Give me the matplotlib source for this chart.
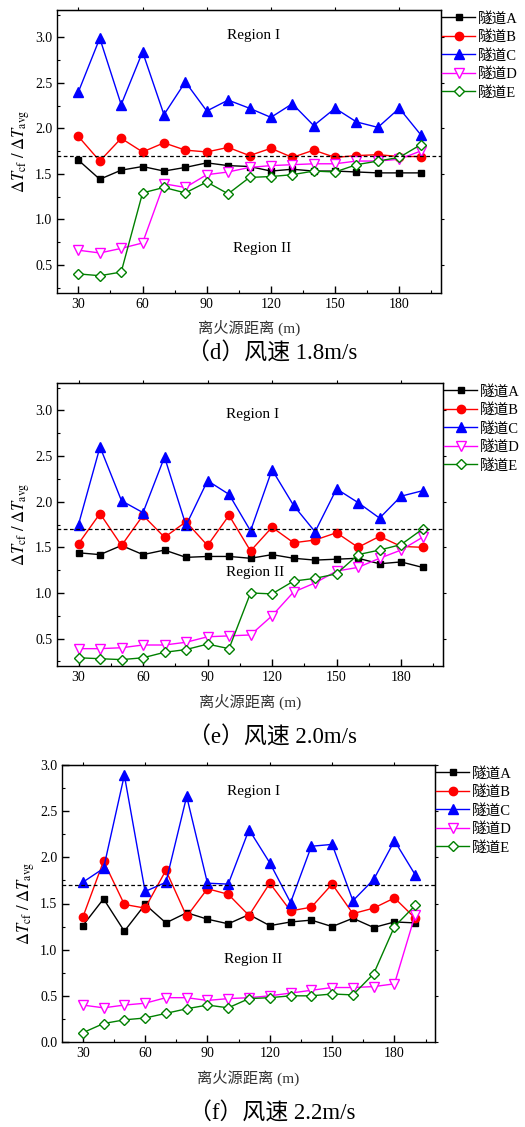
import matplotlib
matplotlib.use("Agg")
import matplotlib.pyplot as plt
from matplotlib.ticker import MultipleLocator

plt.rcParams['font.family'] = ['Liberation Serif', 'Noto Sans CJK SC']
plt.rcParams['mathtext.fontset'] = 'stix'

x = [30, 40, 50, 60, 70, 80, 90, 100, 110, 120, 130, 140, 150, 160, 170, 180, 190]
labels = ['隧道A', '隧道B', '隧道C', '隧道D', '隧道E']

# (d) wind 1.8 m/s
d_A = [1.65, 1.44, 1.54, 1.58, 1.53, 1.57, 1.62, 1.59, 1.58, 1.53, 1.55, 1.53, 1.53, 1.52, 1.51, 1.51, 1.51]
d_B = [1.91, 1.64, 1.89, 1.74, 1.84, 1.76, 1.74, 1.79, 1.70, 1.78, 1.68, 1.76, 1.68, 1.70, 1.71, 1.69, 1.69]
d_C = [2.40, 2.99, 2.26, 2.84, 2.15, 2.51, 2.19, 2.31, 2.22, 2.12, 2.27, 2.03, 2.22, 2.07, 2.01, 2.22, 1.93]
d_D = [0.66, 0.63, 0.68, 0.74, 1.39, 1.35, 1.49, 1.52, 1.57, 1.59, 1.60, 1.61, 1.61, 1.64, 1.64, 1.66, 1.75]
d_E = [0.40, 0.38, 0.42, 1.29, 1.35, 1.29, 1.41, 1.28, 1.46, 1.47, 1.49, 1.53, 1.52, 1.60, 1.64, 1.68, 1.82]

# (e) wind 2.0 m/s
e_A = [1.44, 1.42, 1.52, 1.42, 1.47, 1.39, 1.40, 1.40, 1.38, 1.42, 1.38, 1.36, 1.37, 1.38, 1.32, 1.34, 1.28]
e_B = [1.54, 1.87, 1.52, 1.85, 1.61, 1.78, 1.52, 1.85, 1.46, 1.72, 1.55, 1.58, 1.66, 1.50, 1.62, 1.51, 1.50]
e_C = [1.75, 2.60, 2.01, 1.88, 2.49, 1.74, 2.23, 2.08, 1.68, 2.35, 1.96, 1.67, 2.14, 1.99, 1.82, 2.06, 2.12]
e_D = [0.39, 0.39, 0.40, 0.43, 0.43, 0.46, 0.52, 0.53, 0.54, 0.75, 1.01, 1.11, 1.24, 1.28, 1.38, 1.47, 1.61]
e_E = [0.29, 0.28, 0.27, 0.29, 0.35, 0.38, 0.44, 0.39, 1.00, 0.99, 1.13, 1.16, 1.21, 1.42, 1.47, 1.53, 1.70]

# (f) wind 2.2 m/s
f_A = [1.26, 1.55, 1.20, 1.49, 1.29, 1.40, 1.33, 1.28, 1.38, 1.26, 1.30, 1.32, 1.25, 1.34, 1.24, 1.30, 1.29]
f_B = [1.35, 1.96, 1.49, 1.45, 1.86, 1.36, 1.66, 1.60, 1.37, 1.72, 1.42, 1.46, 1.71, 1.39, 1.45, 1.56, 1.34]
f_C = [1.73, 1.88, 2.89, 1.63, 1.73, 2.66, 1.72, 1.71, 2.30, 1.94, 1.51, 2.12, 2.14, 1.53, 1.76, 2.18, 1.81]
f_D = [0.40, 0.37, 0.40, 0.42, 0.48, 0.48, 0.45, 0.47, 0.48, 0.50, 0.53, 0.56, 0.59, 0.59, 0.60, 0.63, 1.38]
f_E = [0.10, 0.20, 0.24, 0.26, 0.31, 0.36, 0.40, 0.37, 0.47, 0.48, 0.50, 0.50, 0.52, 0.51, 0.74, 1.25, 1.48]

threshold = 1.70
captions = ['（d）风速 1.8m/s', '（e）风速 2.0m/s', '（f）风速 2.2m/s']
xticks = [30, 60, 90, 120, 150, 180]
xlabel = '离火源距离 (m)'
ylabel = r'$\mathit{\Delta T}_{\mathrm{cf}}\ /\ \mathit{\Delta T}_{\mathrm{avg}}$'

W, H = 525, 1127
fig = plt.figure(figsize=(W / 100, H / 100), dpi=100)

def px_rect(l, t, r, b):
    return [l / W, (H - b) / H, (r - l) / W, (b - t) / H]

panels = [
    dict(rect=px_rect(57, 10, 441, 293), data=[d_A, d_B, d_C, d_D, d_E], ylim=(0.19, 3.3),
         r1=(112, 3.02), r2=(116, 0.68), xl_y=328, cap_y=354),
    dict(rect=px_rect(57, 383, 443, 666), data=[e_A, e_B, e_C, e_D, e_E], ylim=(0.2, 3.3),
         r1=(111, 2.96), r2=(112, 1.22), xl_y=702, cap_y=738),
    dict(rect=px_rect(62, 765, 435, 1042), data=[f_A, f_B, f_C, f_D, f_E], ylim=(0.0, 3.0),
         r1=(112, 2.71), r2=(112, 0.89), xl_y=1078, cap_y=1114),
]

styles = [
    dict(color='black', marker='s', mfc='black', ms=5),
    dict(color='red', marker='o', mfc='red', ms=6),
    dict(color='blue', marker='^', mfc='blue', ms=7),
    dict(color='magenta', marker='v', mfc='white', ms=6.5),
    dict(color='green', marker='D', mfc='white', ms=5),
]

for i, p in enumerate(panels):
    ax = fig.add_axes(p['rect'])
    for vals, st, lab in zip(p['data'], styles, labels):
        ax.plot(x, vals, color=st['color'], marker=st['marker'], mfc=st['mfc'],
                mec=st['color'], ms=st['ms'], lw=1.0, mew=1.0, label=lab)
    ax.axhline(threshold, color='black', ls=(0, (3, 2)), lw=0.9)
    ax.set_xlim(20, 199.5)
    ax.set_ylim(*p['ylim'])
    ax.set_xticks(xticks)
    ax.xaxis.set_minor_locator(MultipleLocator(15))
    ax.yaxis.set_major_locator(MultipleLocator(0.5))
    ax.yaxis.set_minor_locator(MultipleLocator(0.25))
    ax.tick_params(which='both', direction='in', labelsize=10, top=False, right=False)
    ax.tick_params(which='major', length=5, width=1)
    ax.tick_params(which='minor', length=2.5, width=0.8)
    sec = ax.secondary_xaxis('top')
    sec.set_xticks(xticks)
    sec.tick_params(direction='out', length=2, labeltop=False)
    sec.set_xticklabels([])
    sec2 = ax.secondary_yaxis('right')
    sec2.yaxis.set_major_locator(MultipleLocator(0.5))
    sec2.tick_params(direction='out', length=2, labelright=False)
    for s in ax.spines.values():
        s.set_linewidth(1.0)
    ax.text(p['r1'][0], p['r1'][1], 'Region I', ha='center', va='center', fontsize=11)
    ax.text(p['r2'][0], p['r2'][1], 'Region II', ha='center', va='center', fontsize=11)
    ax.set_ylabel(ylabel, fontsize=12, labelpad=2)
    l, b, w, h = p['rect']
    fig.text(l + w / 2, 1 - p['xl_y'] / H, xlabel, ha='center', va='center', fontsize=11, color='#333333')
    fig.text(272 / W, 1 - p['cap_y'] / H, captions[i], ha='center', va='center', fontsize=16.5)
    ax.legend(loc='upper left', bbox_to_anchor=(1.0, 1.0), frameon=False, fontsize=10.5,
              borderaxespad=0.0, borderpad=0.1, handlelength=2.2, handletextpad=0.25,
              labelspacing=0.32)

fig.savefig('out.png', dpi=100)
